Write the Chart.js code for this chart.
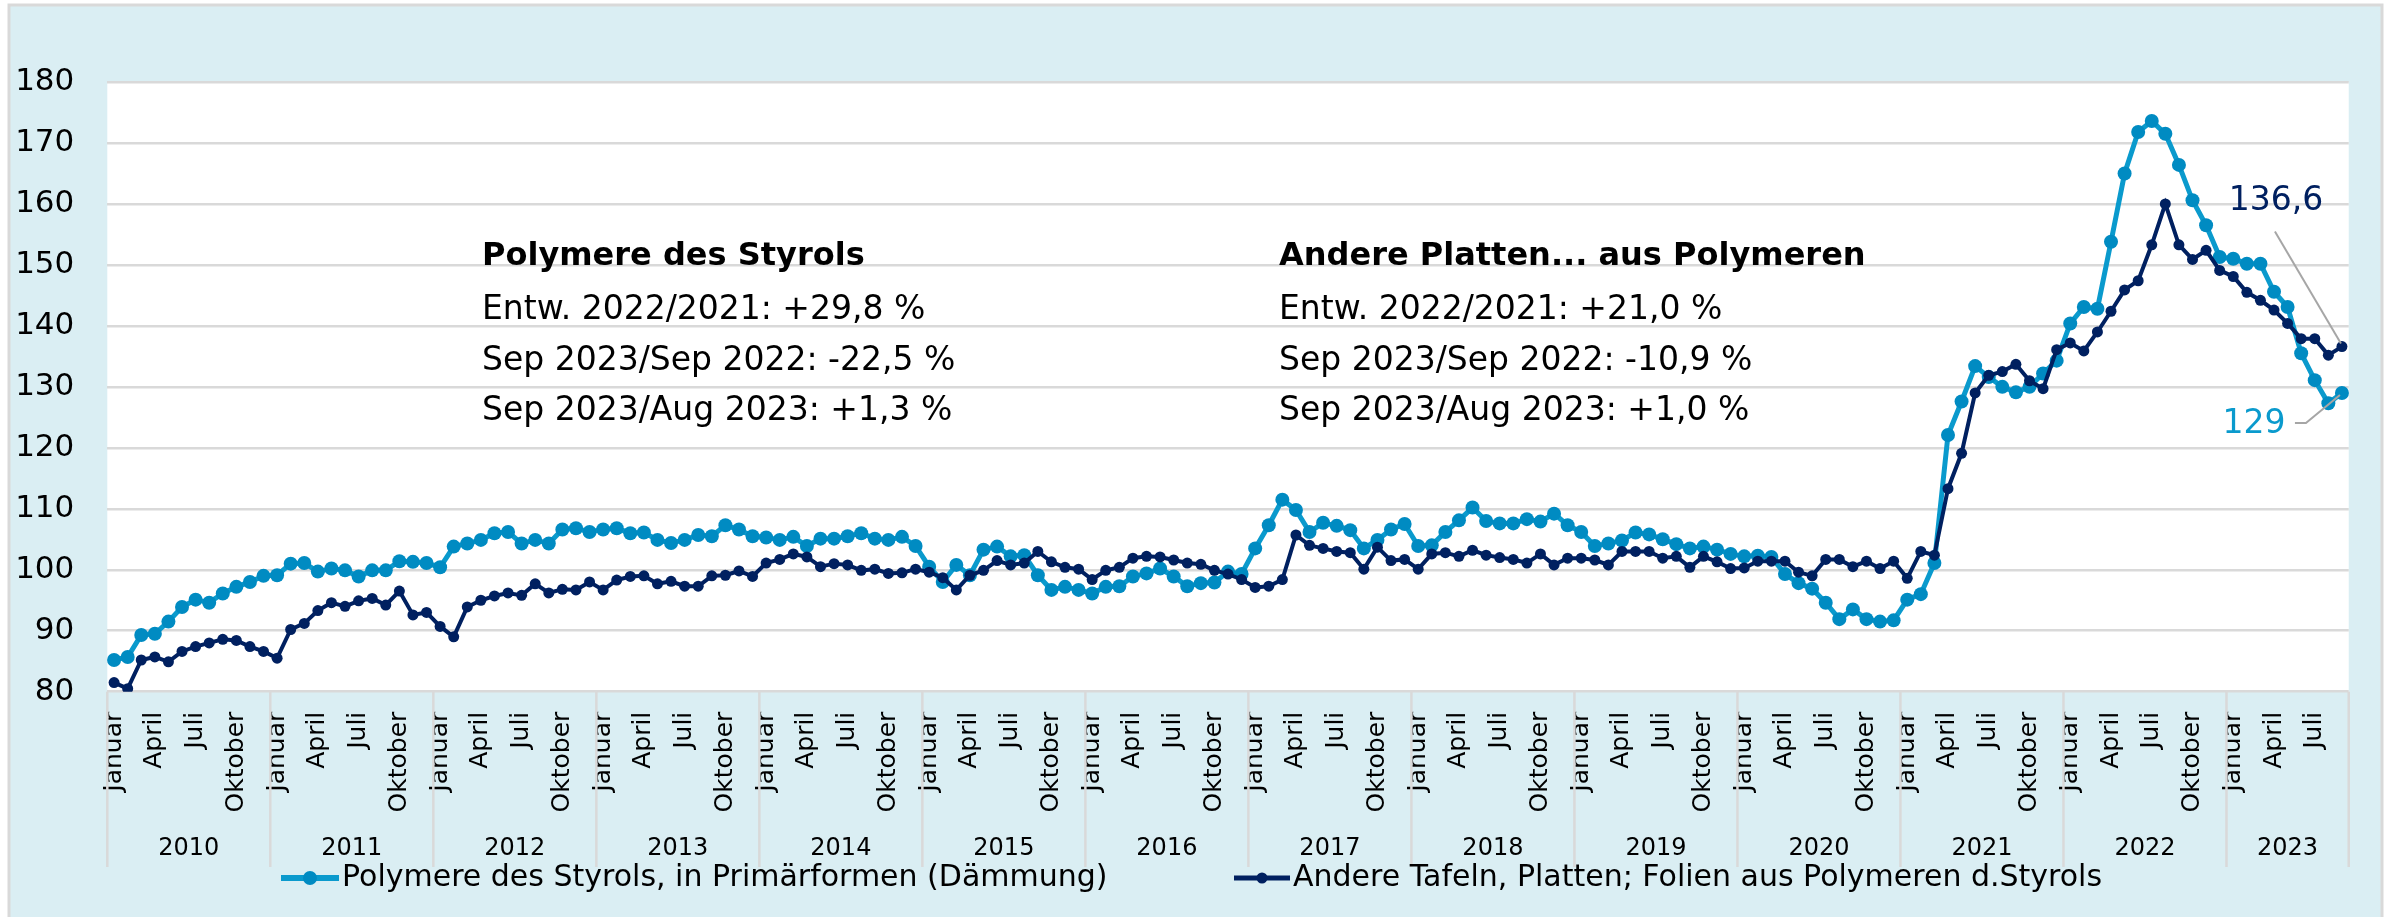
<!DOCTYPE html>
<html>
<head>
<meta charset="utf-8">
<script src="https://cdn.jsdelivr.net/npm/chart.js@4.4.0/dist/chart.umd.min.js"></script>
<style>
  html, body { margin: 0; padding: 0; background: #fff; }
  canvas { display: block; }
</style>
</head>
<body>
<canvas id="chart" width="2392" height="917"></canvas>
<script>
// --- data -------------------------------------------------------------
const years = [2010, 2011, 2012, 2013, 2014, 2015, 2016, 2017, 2018, 2019, 2020, 2021, 2022, 2023];
const monthNames = ['Januar', 'Februar', 'März', 'April', 'Mai', 'Juni', 'Juli', 'August', 'September', 'Oktober', 'November', 'Dezember'];
const lastYearMonths = 9; // 2023 bis September

// Polymere des Styrols, in Primärformen (Dämmung)
const styrolValues = [
  85.2, 85.7, 89.3, 89.5, 91.5, 93.9, 95.1, 94.6, 96.1, 97.2, 98.0, 99.0,        // 2010
  99.1, 101.0, 101.1, 99.7, 100.2, 99.9, 98.9, 99.9, 99.9, 101.4, 101.3, 101.1,  // 2011
  100.4, 103.8, 104.3, 104.9, 106.0, 106.2, 104.3, 104.9, 104.3, 106.6, 106.8, 106.2, // 2012
  106.6, 106.8, 106.0, 106.1, 104.9, 104.4, 104.9, 105.7, 105.5, 107.3, 106.6, 105.5, // 2013
  105.3, 104.9, 105.4, 103.9, 105.1, 105.1, 105.5, 106.0, 105.1, 104.9, 105.4, 103.9, // 2014
  100.5, 98.0, 100.8, 99.1, 103.3, 103.8, 102.2, 102.4, 99.1, 96.7, 97.2, 96.7,   // 2015
  96.1, 97.2, 97.3, 98.9, 99.4, 100.2, 98.9, 97.3, 97.8, 97.9, 99.7, 99.3,        // 2016
  103.5, 107.3, 111.5, 109.8, 106.2, 107.7, 107.2, 106.5, 103.5, 104.9, 106.6, 107.5, // 2017
  103.9, 104.0, 106.2, 108.1, 110.2, 108.0, 107.6, 107.6, 108.3, 107.9, 109.2, 107.3, // 2018
  106.2, 103.9, 104.3, 104.8, 106.1, 105.8, 105.0, 104.2, 103.5, 103.8, 103.3, 102.6, // 2019
  102.2, 102.3, 102.1, 99.3, 97.8, 96.9, 94.6, 91.9, 93.5, 91.9, 91.5, 91.7,      // 2020
  95.1, 96.0, 101.1, 122.1, 127.6, 133.4, 131.6, 130.0, 129.1, 130.0, 132.2, 134.3, // 2021
  140.4, 143.1, 142.8, 153.8, 165.0, 171.8, 173.6, 171.5, 166.4, 160.6, 156.5, 151.3, // 2022
  151.0, 150.2, 150.2, 145.6, 143.1, 135.5, 131.1, 127.3, 129.0                    // 2023
];

// Andere Tafeln, Platten; Folien aus Polymeren d.Styrols
const platesValues = [
  81.5, 80.5, 85.2, 85.7, 84.9, 86.6, 87.4, 88.0, 88.6, 88.4, 87.4, 86.6,         // 2010
  85.5, 90.2, 91.2, 93.3, 94.6, 94.0, 94.9, 95.3, 94.2, 96.5, 92.6, 93.0,         // 2011
  90.7, 89.0, 93.9, 95.0, 95.7, 96.2, 95.8, 97.7, 96.2, 96.8, 96.7, 98.0,         // 2012
  96.7, 98.3, 98.9, 99.0, 97.7, 98.1, 97.3, 97.3, 99.0, 99.1, 99.8, 98.9,         // 2013
  101.1, 101.7, 102.6, 102.1, 100.5, 101.0, 100.8, 99.9, 100.1, 99.4, 99.5, 100.1, // 2014
  99.6, 98.7, 96.7, 99.1, 99.9, 101.5, 100.8, 101.1, 103.0, 101.3, 100.4, 100.1,  // 2015
  98.4, 99.9, 100.4, 101.9, 102.2, 102.1, 101.6, 101.1, 100.9, 99.9, 99.3, 98.4,  // 2016
  97.1, 97.3, 98.4, 105.7, 104.0, 103.5, 103.0, 102.8, 100.1, 103.7, 101.5, 101.7, // 2017
  100.1, 102.6, 102.8, 102.2, 103.2, 102.4, 102.0, 101.7, 101.1, 102.6, 100.8, 101.9, // 2018
  101.9, 101.6, 100.8, 103.0, 103.0, 103.0, 101.9, 102.2, 100.4, 102.2, 101.3, 100.2, // 2019
  100.3, 101.4, 101.4, 101.4, 99.6, 99.0, 101.7, 101.7, 100.5, 101.4, 100.2, 101.4, // 2020
  98.6, 103.0, 102.4, 113.3, 119.1, 129.0, 131.9, 132.5, 133.7, 131.0, 129.7, 136.1, // 2021
  137.2, 135.9, 139.0, 142.4, 145.9, 147.4, 153.3, 160.0, 153.3, 150.9, 152.4, 149.1, // 2022
  148.1, 145.5, 144.2, 142.6, 140.4, 137.9, 137.9, 135.2, 136.6                    // 2023
];

const yMin = 80;
const yMax = 180;
const yStep = 10;

const seriesNames = [
  'Polymere des Styrols, in Primärformen (Dämmung)',
  'Andere Tafeln, Platten; Folien aus Polymeren d.Styrols'
];
const endLabels = ['129', '136,6'];

const notesLeft = ['Polymere des Styrols', 'Entw. 2022/2021: +29,8 %', 'Sep 2023/Sep 2022: -22,5 %', 'Sep 2023/Aug 2023: +1,3 %'];
const notesRight = ['Andere Platten... aus Polymeren', 'Entw. 2022/2021: +21,0 %', 'Sep 2023/Sep 2022: -10,9 %', 'Sep 2023/Aug 2023: +1,0 %'];

// --- build categories -------------------------------------------------
const labels = [];
years.forEach((y, yi) => {
  const n = yi === years.length - 1 ? lastYearMonths : 12;
  for (let m = 0; m < n; m++) labels.push(monthNames[m] + ' ' + y);
});

const FONT = '"DejaVu Sans", sans-serif';
const LIGHT = '#0A9ACD';
const LIGHT_PT = '#008BC2';
const NAVY = '#002060';
const BG = '#DAEEF3';
const GRID = '#D9D9D9';

// background frame: light blue box, white plot area
const framePlugin = {
  id: 'frame',
  beforeDraw(chart) {
    const { ctx, chartArea: a } = chart;
    ctx.save();
    ctx.fillStyle = '#fff';
    ctx.fillRect(0, 0, chart.width, chart.height);
    ctx.fillStyle = BG;
    ctx.fillRect(9, 5, 2373, 912);
    ctx.strokeStyle = GRID;
    ctx.lineWidth = 3;
    ctx.beginPath();
    ctx.moveTo(9, 917); ctx.lineTo(9, 5); ctx.lineTo(2382, 5); ctx.lineTo(2382, 917);
    ctx.stroke();
    ctx.fillStyle = '#fff';
    ctx.fillRect(a.left, a.top, a.right - a.left, a.bottom - a.top);
    ctx.restore();
  }
};

// year groups, legend, notes, end labels
const extrasPlugin = {
  id: 'extras',
  afterDraw(chart) {
    const { ctx, chartArea: a } = chart;
    const xs = chart.scales.x;
    ctx.save();

    // year separators + year labels
    const bounds = [a.left];
    let idx = 0;
    years.forEach((y, yi) => {
      const n = yi === years.length - 1 ? lastYearMonths : 12;
      idx += n;
      if (idx < labels.length) {
        bounds.push((xs.getPixelForValue(idx - 1) + xs.getPixelForValue(idx)) / 2);
      } else {
        bounds.push(a.right);
      }
    });
    ctx.strokeStyle = GRID;
    ctx.lineWidth = 2.5;
    bounds.forEach(bx => {
      ctx.beginPath();
      ctx.moveTo(bx, a.bottom);
      ctx.lineTo(bx, 867);
      ctx.stroke();
    });
    ctx.fillStyle = '#000';
    ctx.font = '24px ' + FONT;
    ctx.textAlign = 'center';
    ctx.textBaseline = 'middle';
    years.forEach((y, yi) => {
      ctx.fillText(String(y), (bounds[yi] + bounds[yi + 1]) / 2, 849);
    });

    // legend
    const legendItems = [
      { x: 281, w: 58, color: LIGHT, pt: LIGHT_PT, lw: 6, r: 7, text: seriesNames[0] },
      { x: 1234, w: 56, color: NAVY, pt: NAVY, lw: 5, r: 5.5, text: seriesNames[1] }
    ];
    const ly = 878;
    ctx.font = '30px ' + FONT;
    ctx.textAlign = 'left';
    legendItems.forEach(it => {
      ctx.strokeStyle = it.color;
      ctx.lineWidth = it.lw;
      ctx.beginPath();
      ctx.moveTo(it.x, ly);
      ctx.lineTo(it.x + it.w, ly);
      ctx.stroke();
      ctx.fillStyle = it.pt;
      ctx.beginPath();
      ctx.arc(it.x + it.w / 2, ly, it.r, 0, Math.PI * 2);
      ctx.fill();
      ctx.fillStyle = '#000';
      ctx.fillText(it.text, it.x + it.w + 3, ly);
    });

    // text notes
    const noteYs = [257, 310, 361, 411];
    [[notesLeft, 482], [notesRight, 1279]].forEach(([lines, nx]) => {
      lines.forEach((t, i) => {
        ctx.font = (i === 0 ? 'bold 32px ' : '33px ') + FONT;
        ctx.fillStyle = '#000';
        ctx.fillText(t, nx, noteYs[i]);
      });
    });

    // end labels with leader lines
    const pLight = chart.getDatasetMeta(0).data[labels.length - 1];
    const pNavy = chart.getDatasetMeta(1).data[labels.length - 1];
    ctx.strokeStyle = '#A6A6A6';
    ctx.lineWidth = 2;
    ctx.beginPath();
    ctx.moveTo(pNavy.x - 67, pNavy.y - 115);
    ctx.lineTo(pNavy.x - 1, pNavy.y - 3);
    ctx.stroke();
    ctx.beginPath();
    ctx.moveTo(pLight.x - 47, pLight.y + 30);
    ctx.lineTo(pLight.x - 36, pLight.y + 30);
    ctx.lineTo(pLight.x - 2, pLight.y + 2);
    ctx.stroke();
    ctx.font = '33px ' + FONT;
    ctx.textAlign = 'center';
    ctx.fillStyle = NAVY;
    ctx.fillText(endLabels[1], pNavy.x - 66, pNavy.y - 145);
    ctx.fillStyle = LIGHT;
    ctx.fillText(endLabels[0], pLight.x - 88, pLight.y + 31);

    ctx.restore();
  }
};

new Chart(document.getElementById('chart'), {
  type: 'line',
  data: {
    labels: labels,
    datasets: [
      {
        label: seriesNames[0],
        data: styrolValues,
        borderColor: LIGHT,
        backgroundColor: LIGHT_PT,
        pointBackgroundColor: LIGHT_PT,
        pointBorderColor: LIGHT_PT,
        borderWidth: 5,
        pointRadius: 7,
        pointBorderWidth: 0,
        tension: 0,
        order: 1
      },
      {
        label: seriesNames[1],
        data: platesValues,
        borderColor: NAVY,
        backgroundColor: NAVY,
        pointBackgroundColor: NAVY,
        pointBorderColor: NAVY,
        borderWidth: 4,
        pointRadius: 5.5,
        pointBorderWidth: 0,
        tension: 0,
        order: 0
      }
    ]
  },
  options: {
    responsive: false,
    animation: false,
    devicePixelRatio: 1,
    events: [],
    layout: { padding: { left: 0, right: 21, top: 82, bottom: 0 } },
    plugins: {
      legend: { display: false },
      tooltip: { enabled: false },
      title: { display: false }
    },
    scales: {
      x: {
        type: 'category',
        offset: true,
        grid: { display: false, drawTicks: false },
        border: { display: false },
        ticks: {
          autoSkip: false,
          maxRotation: 90,
          minRotation: 90,
          padding: 20,
          color: '#000',
          font: { family: FONT, size: 25 },
          callback: function (value, index) {
            return index % 3 === 0 ? monthNames[index % 12] : '';
          }
        },
        afterFit(scale) { scale.height = 225.3; }
      },
      y: {
        min: yMin,
        max: yMax,
        grid: { color: GRID, lineWidth: 2.5, drawTicks: false },
        border: { display: false },
        ticks: {
          stepSize: yStep,
          padding: 33,
          color: '#000',
          font: { family: FONT, size: 31 }
        },
        afterFit(scale) { scale.width = 107.3; }
      }
    }
  },
  plugins: [framePlugin, extrasPlugin]
});
</script>
</body>
</html>
